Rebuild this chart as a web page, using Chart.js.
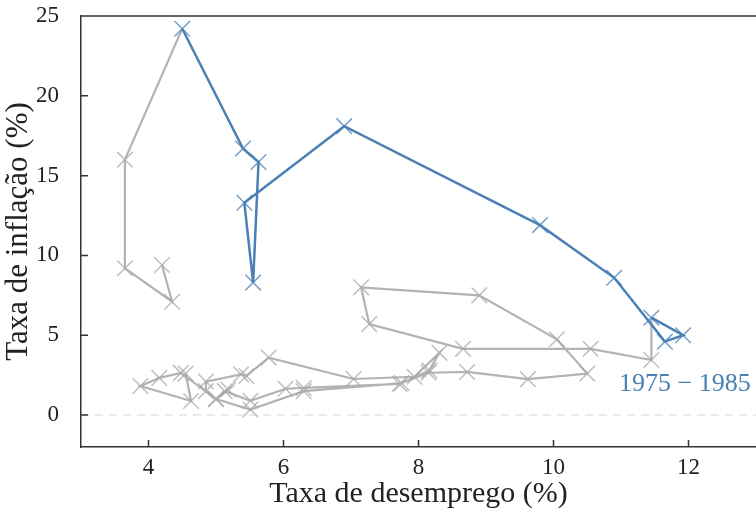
<!DOCTYPE html>
<html>
<head>
<meta charset="utf-8">
<script src="https://cdn.jsdelivr.net/npm/chart.js@4"></script>
<style>
  html, body { margin: 0; padding: 0; background: #fff; }
  #box { width: 756px; height: 512px; }
</style>
</head>
<body>
<div id="box"><canvas id="phillips"></canvas></div>
<script>
// anos, desemprego (%) e inflação (%)
var years = [1971, 1972, 1973, 1974, 1975, 1976, 1977, 1978, 1979, 1980,
    1981, 1982, 1983, 1984, 1985, 1986, 1987, 1988, 1989, 1990,
    1991, 1992, 1993, 1994, 1995, 1996, 1997, 1998, 1999, 2000,
    2001, 2002, 2003, 2004, 2005, 2006, 2007, 2008, 2009, 2010,
    2011, 2012, 2013, 2014, 2015, 2016, 2017, 2018, 2019, 2020, 2021];
var unemployment = [4.2, 4.35, 3.65, 3.65, 4.5, 5.4, 5.63, 5.55, 5.42, 6.9,
    9.8, 10.9, 11.65, 11.92, 11.45, 11.45, 10.55, 8.66, 7.27, 7.15,
    8.9, 10.05, 10.5, 9.62, 8.72, 8.15, 7.72, 6.3, 6.03, 5.51,
    5.13, 5.18, 5.0, 4.85, 4.85, 5.37, 5.45, 5.78, 7.04, 7.94,
    8.31, 8.16, 7.75, 6.3, 5.51, 5.0, 4.48, 4.16, 3.88, 4.63, 4.55];
var inflation = [9.4, 7.1, 9.2, 16.0, 24.2, 16.7, 15.85, 8.3, 13.3, 18.1,
    11.9, 8.6, 4.6, 5.0, 6.1, 3.45, 4.15, 4.15, 5.7, 8.0,
    7.5, 4.75, 2.6, 2.25, 2.7, 2.65, 1.95, 1.7, 1.65, 0.9,
    1.5, 1.6, 1.0, 1.5, 2.1, 2.55, 2.45, 3.6, 2.26, 2.4,
    3.9, 2.8, 2.0, 1.5, 0.35, 1.0, 2.64, 2.33, 1.82, 0.88, 2.6];
var highlightStart = 1975;
var highlightEnd = 1985;
var xTicks = [4, 6, 8, 10, 12];
var yTicks = [0, 5, 10, 15, 20, 25];

var blue = '#4a80b5';
var grey = '#b3b3b3';
var serif = "'Liberation Serif', 'DejaVu Serif', serif";

function inBlue(i) {
    return years[i] >= highlightStart && years[i] <= highlightEnd;
}

var allPoints = [];
var bluePoints = [];
for (var i = 0; i < years.length; i++) {
    allPoints.push({ x: unemployment[i], y: inflation[i] });
    if (inBlue(i)) bluePoints.push({ x: unemployment[i], y: inflation[i] });
}

// ticks para dentro, borda de cima, linha do zero e rótulo do período
var extras = {
    id: 'extras',
    beforeDatasetsDraw: function (chart) {
        var ctx = chart.ctx;
        var a = chart.chartArea;
        var y0 = chart.scales.y.getPixelForValue(0);
        ctx.save();
        ctx.strokeStyle = '#e3e3e3';
        ctx.lineWidth = 1.5;
        ctx.setLineDash([8, 6]);
        ctx.beginPath();
        ctx.moveTo(a.left, y0);
        ctx.lineTo(a.right, y0);
        ctx.stroke();
        ctx.restore();
    },
    afterDraw: function (chart) {
        var ctx = chart.ctx;
        var a = chart.chartArea;
        var xs = chart.scales.x;
        var ys = chart.scales.y;
        ctx.save();
        ctx.strokeStyle = '#333';
        ctx.lineWidth = 1.5;
        ctx.beginPath();
        ctx.moveTo(a.left, a.top);
        ctx.lineTo(a.right, a.top);
        xTicks.forEach(function (v) {
            var px = xs.getPixelForValue(v);
            ctx.moveTo(px, a.bottom);
            ctx.lineTo(px, a.bottom - 7);
        });
        yTicks.forEach(function (v) {
            var py = ys.getPixelForValue(v);
            ctx.moveTo(a.left, py);
            ctx.lineTo(a.left + 7, py);
        });
        ctx.stroke();
        ctx.fillStyle = blue;
        ctx.font = '26px ' + serif;
        ctx.textAlign = 'left';
        ctx.textBaseline = 'middle';
        ctx.fillText('1975 \u2212 1985', xs.getPixelForValue(10.97), ys.getPixelForValue(1.95));
        ctx.restore();
    }
};

var config = {
    type: 'scatter',
    data: {
        datasets: [{
            data: bluePoints,
            showLine: true,
            borderColor: blue,
            borderWidth: 2.5,
            pointStyle: 'crossRot',
            pointRadius: 11,
            pointBorderWidth: 1.5,
            pointBorderColor: 'rgba(74, 128, 181, 0.75)',
            order: 1
        }, {
            data: allPoints,
            showLine: true,
            borderColor: grey,
            borderWidth: 2.2,
            segment: {
                borderColor: function (c) {
                    return (inBlue(c.p0DataIndex) && inBlue(c.p1DataIndex)) ? 'rgba(0,0,0,0)' : grey;
                }
            },
            pointStyle: 'crossRot',
            pointRadius: years.map(function (y, i) { return inBlue(i) ? 0 : 11; }),
            pointBorderWidth: 1.5,
            pointBorderColor: 'rgba(170, 170, 170, 0.75)',
            order: 2
        }]
    },
    options: {
        responsive: true,
        maintainAspectRatio: false,
        animation: false,
        events: [],
        layout: { autoPadding: false, padding: { top: 16, right: 0, left: 0, bottom: 0 } },
        plugins: { legend: { display: false }, tooltip: { enabled: false } },
        scales: {
            x: {
                type: 'linear',
                min: 3,
                max: 13,
                afterBuildTicks: function (s) { s.ticks = xTicks.map(function (v) { return { value: v }; }); },
                afterFit: function (s) { s.height = 65; s.paddingLeft = 0; s.paddingRight = 0; },
                grid: { display: false, drawTicks: false },
                border: { display: true, color: '#333', width: 1.5 },
                ticks: { color: '#222', font: { family: serif, size: 23 }, padding: 7 },
                title: {
                    display: true,
                    text: 'Taxa de desemprego (%)',
                    color: '#222',
                    font: { family: serif, size: 30 },
                    padding: { top: 0, bottom: 0 }
                }
            },
            y: {
                type: 'linear',
                min: -2,
                max: 25,
                afterBuildTicks: function (s) { s.ticks = yTicks.map(function (v) { return { value: v }; }); },
                afterFit: function (s) { s.width = 81; s.paddingTop = 0; s.paddingBottom = 0; },
                grid: { display: false, drawTicks: false },
                border: { display: true, color: '#333', width: 1.5 },
                ticks: { color: '#222', font: { family: serif, size: 23 }, padding: 22 },
                title: {
                    display: true,
                    text: 'Taxa de inflação (%)',
                    color: '#222',
                    font: { family: serif, size: 31 },
                    padding: { top: 0, bottom: 0 }
                }
            }
        }
    },
    plugins: [extras]
};

var chart = new Chart(document.getElementById('phillips'), config);
</script>
</body>
</html>
